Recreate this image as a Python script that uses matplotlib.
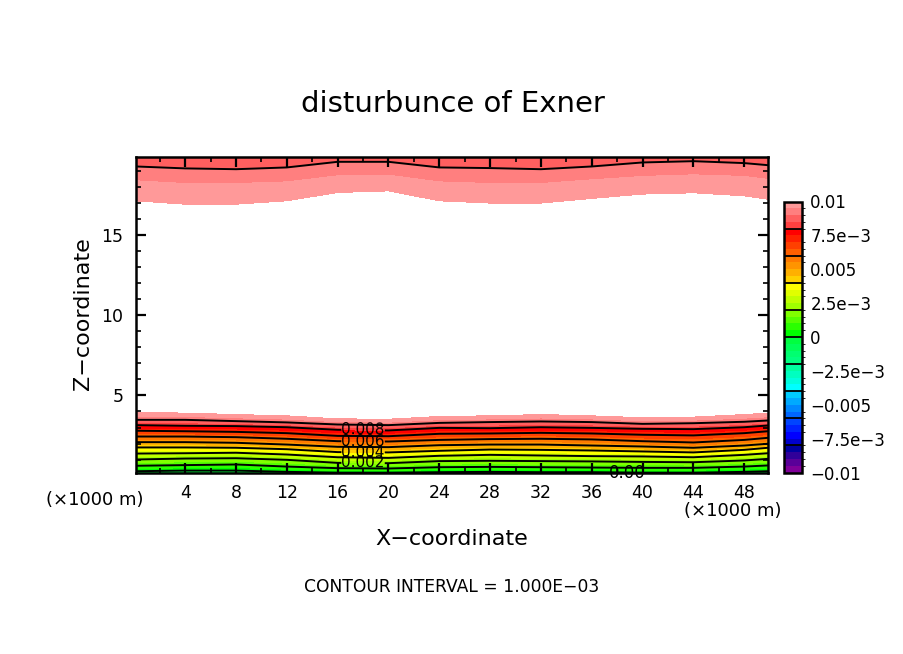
import matplotlib
matplotlib.use('Agg')
import matplotlib.pyplot as plt
import numpy as np
from matplotlib.colors import BoundaryNorm, ListedColormap

# stations along x (km) where the isolines were read
x_km = [0.125, 4, 8, 12, 16, 20, 24, 28, 32, 36, 40, 44, 48, 49.875]

# isoline heights (km) per level, lower part of the domain
h_ground = [0.0] * 14
h_000 = [0.28, 0.32, 0.32, 0.24, 0.19, 0.19, 0.22, 0.24, 0.22, 0.22, 0.19, 0.19, 0.24, 0.28]
h_001 = [0.62, 0.66, 0.70, 0.57, 0.47, 0.45, 0.53, 0.55, 0.53, 0.51, 0.49, 0.49, 0.57, 0.64]
h_002 = [1.01, 1.07, 1.09, 0.99, 0.80, 0.78, 0.91, 0.93, 0.91, 0.89, 0.86, 0.84, 0.95, 1.05]
h_003 = [1.38, 1.40, 1.43, 1.32, 1.15, 1.11, 1.24, 1.30, 1.26, 1.22, 1.20, 1.15, 1.30, 1.40]
h_004 = [1.76, 1.76, 1.74, 1.65, 1.47, 1.45, 1.55, 1.63, 1.61, 1.57, 1.51, 1.45, 1.61, 1.74]
h_005 = [2.09, 2.09, 2.05, 1.94, 1.80, 1.78, 1.90, 1.94, 1.94, 1.88, 1.82, 1.74, 1.88, 1.99]
h_006 = [2.44, 2.44, 2.40, 2.30, 2.15, 2.13, 2.23, 2.28, 2.30, 2.26, 2.15, 2.07, 2.23, 2.36]
h_007 = [2.80, 2.77, 2.73, 2.65, 2.48, 2.46, 2.61, 2.63, 2.67, 2.63, 2.55, 2.51, 2.65, 2.77]
h_008 = [3.15, 3.11, 3.09, 3.02, 2.86, 2.82, 2.98, 2.96, 3.02, 2.98, 2.92, 2.90, 3.02, 3.13]
h_009 = [3.48, 3.48, 3.40, 3.32, 3.19, 3.15, 3.29, 3.34, 3.38, 3.34, 3.23, 3.27, 3.36, 3.44]
h_010 = [3.94, 3.90, 3.81, 3.73, 3.54, 3.52, 3.69, 3.73, 3.81, 3.73, 3.61, 3.65, 3.81, 3.90]

# the middle of the domain is above the colour range, then the upper part
h_mid = [10.0] * 14
h_top_010 = [17.12, 16.91, 16.91, 17.12, 17.64, 17.74, 17.12, 16.98, 16.98, 17.27, 17.54, 17.62, 17.43, 17.22]
h_top_0095 = [18.37, 18.20, 18.20, 18.30, 18.68, 18.72, 18.30, 18.20, 18.20, 18.43, 18.64, 18.74, 18.64, 18.45]
h_top_009 = [19.26, 19.14, 19.09, 19.20, 19.55, 19.55, 19.20, 19.16, 19.09, 19.26, 19.51, 19.59, 19.47, 19.34]
h_lid = [20.0] * 14

heights = np.array([h_ground, h_000, h_001, h_002, h_003, h_004, h_005, h_006, h_007, h_008,
                    h_009, h_010, h_mid, h_top_010, h_top_0095, h_top_009, h_lid])
values = [-0.0003, 0.0, 0.001, 0.002, 0.003, 0.004, 0.005, 0.006, 0.007, 0.008,
          0.009, 0.01, 0.012, 0.01, 0.0095, 0.009, 0.0086]

shade_colors = [
    '#800099', '#5a0099', '#300099', '#0000a0',
    '#0000cc', '#0000ff', '#0022ff', '#0044ff',
    '#0066ff', '#0088ff', '#00aaff', '#00ccff',
    '#00ffff', '#00ffdd', '#00ffc0', '#00ffa0',
    '#00ff80', '#00ff70', '#00ff58', '#00ff40',
    '#00ff00', '#2aff00', '#55ff00', '#80ff00',
    '#a0ff00', '#c0ff00', '#e0ff00', '#ffff00',
    '#ffd000', '#ffb000', '#ff9400', '#ff7a00',
    '#ff6000', '#ff4000', '#ff2000', '#ff0000',
    '#ff4040', '#ff5f5f', '#ff7f7f', '#ff9999',
]
shade_levels = np.linspace(-0.01, 0.01, 41)
line_levels = [0.0, 0.001, 0.002, 0.003, 0.004, 0.005, 0.006, 0.007, 0.008, 0.009]
bar_ticks = [-0.01, -0.0075, -0.005, -0.0025, 0, 0.0025, 0.005, 0.0075, 0.01]
bar_labels = ['\u22120.01', '\u22127.5e\u22123', '\u22120.005', '\u22122.5e\u22123', '0',
              '2.5e\u22123', '0.005', '7.5e\u22123', '0.01']
bar_dividers = [-0.008, -0.006, -0.004, -0.002, 0, 0.002, 0.004, 0.006, 0.008]

W, H = 904, 654
fig = plt.figure(figsize=(W / 100, H / 100), dpi=100)
ax = fig.add_axes([136 / W, 1 - 472.5 / H, 632 / W, 315.5 / H])

X = np.tile(x_km, (len(values), 1))
C = np.tile(np.array(values)[:, None], (1, len(x_km)))
cmap = ListedColormap(shade_colors)
norm = BoundaryNorm(shade_levels, cmap.N)
cf = ax.contourf(X, heights, C, levels=shade_levels, cmap=cmap, norm=norm, antialiased=False)
cs = ax.contour(X, heights, C, levels=line_levels, colors='k', linewidths=1.4)

ax.set_xlim(0.125, 49.875)
ax.set_ylim(0.2, 19.85)

ax.clabel(cs, fmt='%.3f', fontsize=11, inline=True, inline_spacing=0, colors='k',
          manual=[(18, 0.80), (18, 1.46), (18, 2.14), (18, 2.84)])
ax.text(38.8, 0.2, '0.00', fontsize=12, ha='center', va='center', clip_on=False)

ax.set_xticks(range(4, 49, 4))
ax.set_xticks(range(2, 50, 4), minor=True)
ax.set_yticks([5, 10, 15])
ax.set_yticks([z for z in range(1, 20) if z % 5], minor=True)
ax.tick_params(which='major', direction='in', length=7.5, width=1.6, top=True, right=True, labelsize=12.5, pad=8)
ax.tick_params(which='minor', direction='in', length=3.8, width=1.2, top=True, right=True)
ax.tick_params(axis='y', which='major', pad=9)
for spine in ax.spines.values():
    spine.set_linewidth(1.8)

cax = fig.add_axes([784 / W, 1 - 472.5 / H, 18 / W, 271 / H])
cbar = fig.colorbar(cf, cax=cax, ticks=bar_ticks, spacing='proportional', drawedges=False)
cbar.ax.set_yticklabels(bar_labels, fontsize=12)
cbar.ax.tick_params(length=0, pad=6)
cbar.ax.hlines(bar_dividers, 0, 1, transform=cbar.ax.get_yaxis_transform(), color='k', linewidth=1.3)
cbar.outline.set_linewidth(1.8)

fig.text(453 / W, 1 - 104 / H, 'disturbunce of Exner', fontsize=21, ha='center', va='center')
fig.text(452 / W, 1 - 539 / H, 'X\u2212coordinate', fontsize=16, ha='center', va='center')
fig.text(83 / W, 1 - 314 / H, 'Z\u2212coordinate', fontsize=16, ha='center', va='center', rotation=90)
fig.text(95 / W, 1 - 500 / H, '(\u00d71000 m)', fontsize=13, ha='center', va='center')
fig.text(733 / W, 1 - 511 / H, '(\u00d71000 m)', fontsize=13, ha='center', va='center')
fig.text(452 / W, 1 - 587 / H, 'CONTOUR INTERVAL = 1.000E\u221203', fontsize=12.3, ha='center', va='center')

fig.savefig('out.png', dpi=100)
